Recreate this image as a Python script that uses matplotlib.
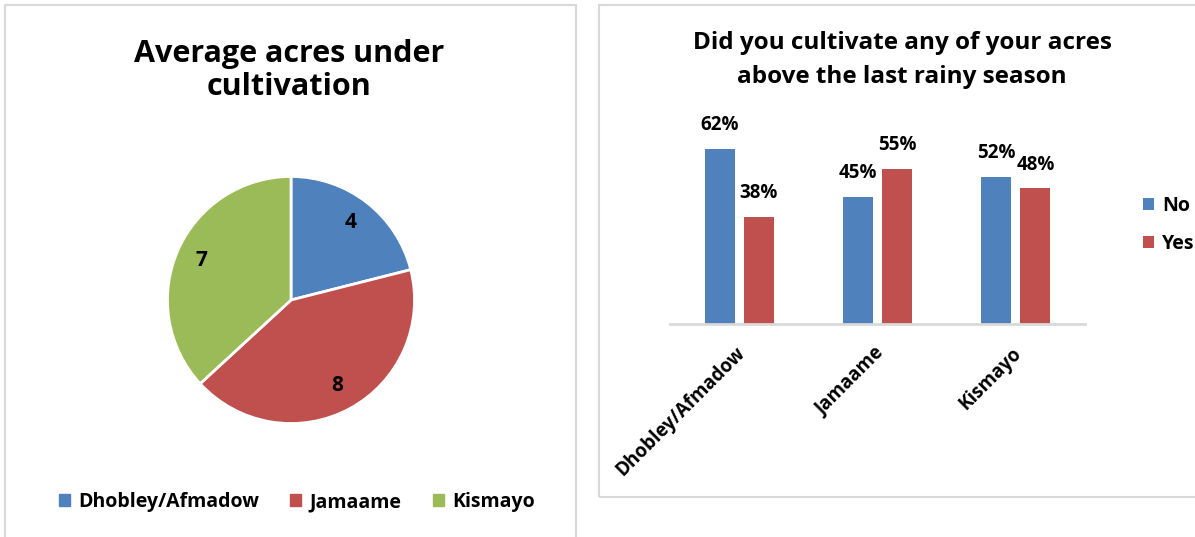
import numpy as np
import matplotlib
matplotlib.use("Agg")
import matplotlib.pyplot as plt
import matplotlib.transforms as mtransforms
from matplotlib.patches import Rectangle, Patch

plt.rcParams['font.family'] = ['Open Sans', 'DejaVu Sans']
plt.rcParams['font.weight'] = 'bold'

# data
districts = ['Dhobley/Afmadow', 'Jamaame', 'Kismayo']
avg_acres = [4, 8, 7]
pct_no = [62, 45, 52]
pct_yes = [38, 55, 48]

blue = '#4F81BD'
red = '#C0504D'
green = '#9BBB59'
grid_grey = '#D9D9D9'

W, H = 1195, 537
fig = plt.figure(figsize=(W / 100, H / 100), dpi=100)


def box(x0, y0, x1, y1):
    # pixel box (top-left origin) -> figure fraction rect
    return [x0 / W, 1 - y1 / H, (x1 - x0) / W, (y1 - y0) / H]


def title_lines(xc, lines, baselines, size):
    for txt, yb in zip(lines, baselines):
        fig.text(xc / W, 1 - yb / H, txt, ha='center', va='baseline',
                 fontsize=size, fontweight='bold')


# panel frames
fig.patches.append(Rectangle((5 / W, -0.05), 571 / W, 1 - 5 / H + 0.05,
                             transform=fig.transFigure, fill=False,
                             edgecolor=grid_grey, lw=1.5))
fig.patches.append(Rectangle((599 / W, 1 - 497 / H), 0.6, (492) / H,
                             transform=fig.transFigure, fill=False,
                             edgecolor=grid_grey, lw=1.5))

# ---- pie ----
ax1 = fig.add_axes(box(165, 174, 417, 426))
total = sum(avg_acres)
wedges, _, autotexts = ax1.pie(avg_acres, colors=[blue, red, green],
                               startangle=90, counterclock=False,
                               autopct=lambda p: f"{p * total / 100:.0f}",
                               pctdistance=0.79,
                               wedgeprops=dict(edgecolor='white', linewidth=2),
                               textprops=dict(fontsize=15, fontweight='bold'))
ax1.set_xlim(-1.02, 1.02)
ax1.set_ylim(-1.02, 1.02)

title_lines(289, ['Average acres under', 'cultivation'], [62, 95], 22)

fig.legend([Patch(color=c) for c in [blue, red, green]], districts,
           loc='center', bbox_to_anchor=(297 / W, 1 - 502 / H), ncol=3,
           frameon=False, fontsize=14, handlelength=0.55, handleheight=0.55,
           handletextpad=0.45, columnspacing=1.6, borderpad=0)

# ---- bars ----
ax2 = fig.add_axes(box(670, 110, 1085, 324))
x = np.arange(len(districts))
w = 0.217
off = 0.141
b1 = ax2.bar(x - off, pct_no, w, color=blue, label='No')
b2 = ax2.bar(x + off, pct_yes, w, color=red, label='Yes')
for bars, vals in [(b1, pct_no), (b2, pct_yes)]:
    for rect, v in zip(bars, vals):
        ax2.annotate(f"{v}%", (rect.get_x() + rect.get_width() / 2, v),
                     xytext=(0, 10), textcoords='offset points',
                     ha='center', va='bottom', fontsize=13.5, fontweight='bold')

ax2.set_xlim(-0.5, 2.5)
ax2.set_ylim(0, 213 / 2.81)
for s in ['top', 'right', 'left']:
    ax2.spines[s].set_visible(False)
ax2.spines['bottom'].set_color(grid_grey)
ax2.spines['bottom'].set_linewidth(2)
ax2.set_yticks([])
ax2.set_xticks(x)
ax2.set_xticklabels(districts, rotation=45, ha='right', rotation_mode='anchor',
                    fontsize=13.5, fontweight='bold')
ax2.tick_params(axis='x', length=0, pad=14)
shift = mtransforms.ScaledTranslation(-4 / 100, 0, fig.dpi_scale_trans)
for lbl in ax2.get_xticklabels():
    lbl.set_transform(lbl.get_transform() + shift)
ax2.patch.set_alpha(0)

title_lines(902, ['Did you cultivate any of your acres',
                  'above the last rainy season'], [49, 83], 17.5)

ax2.legend(loc='center left', bbox_to_anchor=(1143 / W, 1 - 225 / H),
           bbox_transform=fig.transFigure, frameon=False, fontsize=14,
           handlelength=0.55, handleheight=0.55, handletextpad=0.45,
           labelspacing=0.95, borderpad=0, borderaxespad=0)

fig.savefig('out.png', dpi=100, facecolor='white')
